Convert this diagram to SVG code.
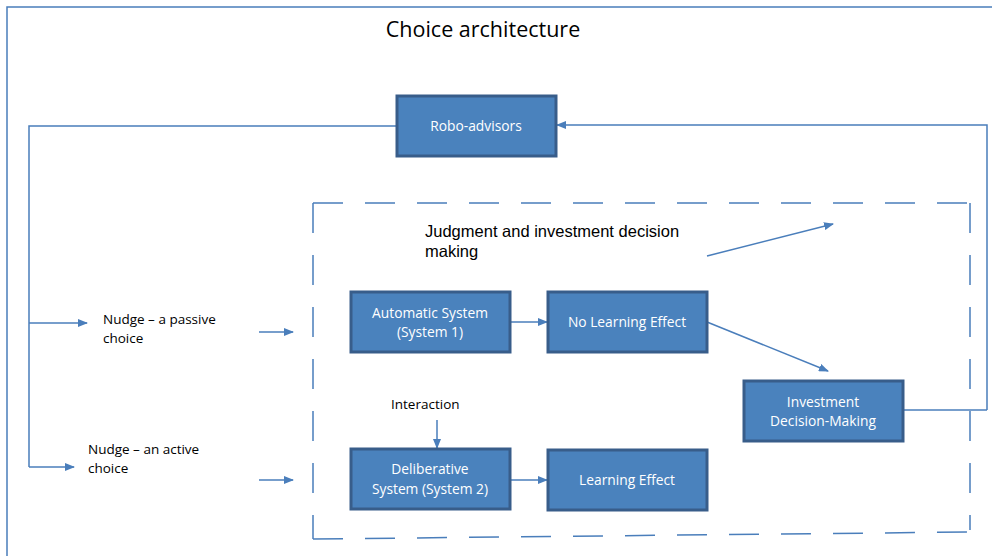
<svg xmlns="http://www.w3.org/2000/svg" width="992" height="556" viewBox="0 0 992 556">
<defs>
<marker id="ah" markerWidth="10" markerHeight="8" refX="9" refY="4" orient="auto" markerUnits="userSpaceOnUse">
<path d="M0,0 L10,4 L0,8 Z" fill="#4A7EBB"/>
</marker>
<style>
.box{fill:#4A82BD;stroke:#385D8A;stroke-width:3}
.bt{font-family:"Open Sans","Liberation Sans",sans-serif;font-size:13.8px;fill:#FFFFFF;text-anchor:middle}
.lt{font-family:"Open Sans","Liberation Sans",sans-serif;font-size:13.5px;fill:#000000}
.ln{fill:none;stroke:#4A7EBB;stroke-width:1.5}
.arr{fill:none;stroke:#4A7EBB;stroke-width:1.5;marker-end:url(#ah)}
.dash{fill:none;stroke:#4A7EBB;stroke-width:1.5;stroke-dasharray:30 22}
</style>
</defs>
<rect width="992" height="556" fill="#FFFFFF"/>
<g id="frame">
<path class="ln" d="M7,560 L7,7 L1000,7"/>
<text x="483" y="37" text-anchor="middle" font-family="Open Sans, Liberation Sans, sans-serif" font-size="21.5" fill="#000">Choice architecture</text>
</g>
<g id="dashed-frame">
<path class="dash" d="M313,203 L970,203"/>
<path class="dash" d="M313,203 L313,539"/>
<path class="dash" d="M313,539 L970,532"/>
<path class="dash" d="M970,203 L970,530"/>
<text x="425" y="236.5" font-family="Liberation Sans, Arial, sans-serif" font-size="16.5" fill="#000">Judgment and investment decision</text>
<text x="425" y="256.5" font-family="Liberation Sans, Arial, sans-serif" font-size="16.5" fill="#000">making</text>
</g>
<g id="connectors">
<path class="arr" d="M987,410 L987,125 L557,125"/>
<path class="ln" d="M903,410 L987,410"/>
<path class="ln" d="M397,126 L29,126 L29,467"/>
<path class="arr" d="M29,323 L87,323"/>
<path class="arr" d="M29,467 L74,467"/>
<path class="arr" d="M259,332 L293,332"/>
<path class="arr" d="M259,480 L293,480"/>
<path class="arr" d="M510,322 L547,322"/>
<path class="arr" d="M510,480 L547,480"/>
<path class="arr" d="M707,322 L828,371"/>
<path class="arr" d="M707,256 L833,224"/>
<path class="arr" d="M437,420 L437,448"/>
</g>
<g id="robo-advisors">
<rect class="box" x="397" y="96" width="159" height="60"/>
<text class="bt" x="476" y="131">Robo-advisors</text>
</g>
<g id="automatic-system">
<rect class="box" x="351" y="292" width="159" height="60"/>
<text class="bt" x="430" y="318">Automatic System</text>
<text class="bt" x="430" y="337">(System 1)</text>
</g>
<g id="no-learning-effect">
<rect class="box" x="548" y="292" width="159" height="60"/>
<text class="bt" x="627" y="327">No Learning Effect</text>
</g>
<g id="investment-decision-making">
<rect class="box" x="744" y="381" width="159" height="60"/>
<text class="bt" x="823" y="407">Investment</text>
<text class="bt" x="823" y="426">Decision-Making</text>
</g>
<g id="deliberative-system">
<rect class="box" x="351" y="449" width="159" height="60"/>
<text class="bt" x="430" y="474">Deliberative</text>
<text class="bt" x="430" y="494">System (System 2)</text>
</g>
<g id="learning-effect">
<rect class="box" x="548" y="450" width="159" height="60"/>
<text class="bt" x="627" y="485">Learning Effect</text>
</g>
<g id="labels">
<text class="lt" x="103" y="324">Nudge – a passive</text>
<text class="lt" x="103" y="343">choice</text>
<text class="lt" x="88" y="454">Nudge –  an active</text>
<text class="lt" x="88" y="473">choice</text>
<text class="lt" x="391" y="409">Interaction</text>
</g>
</svg>
